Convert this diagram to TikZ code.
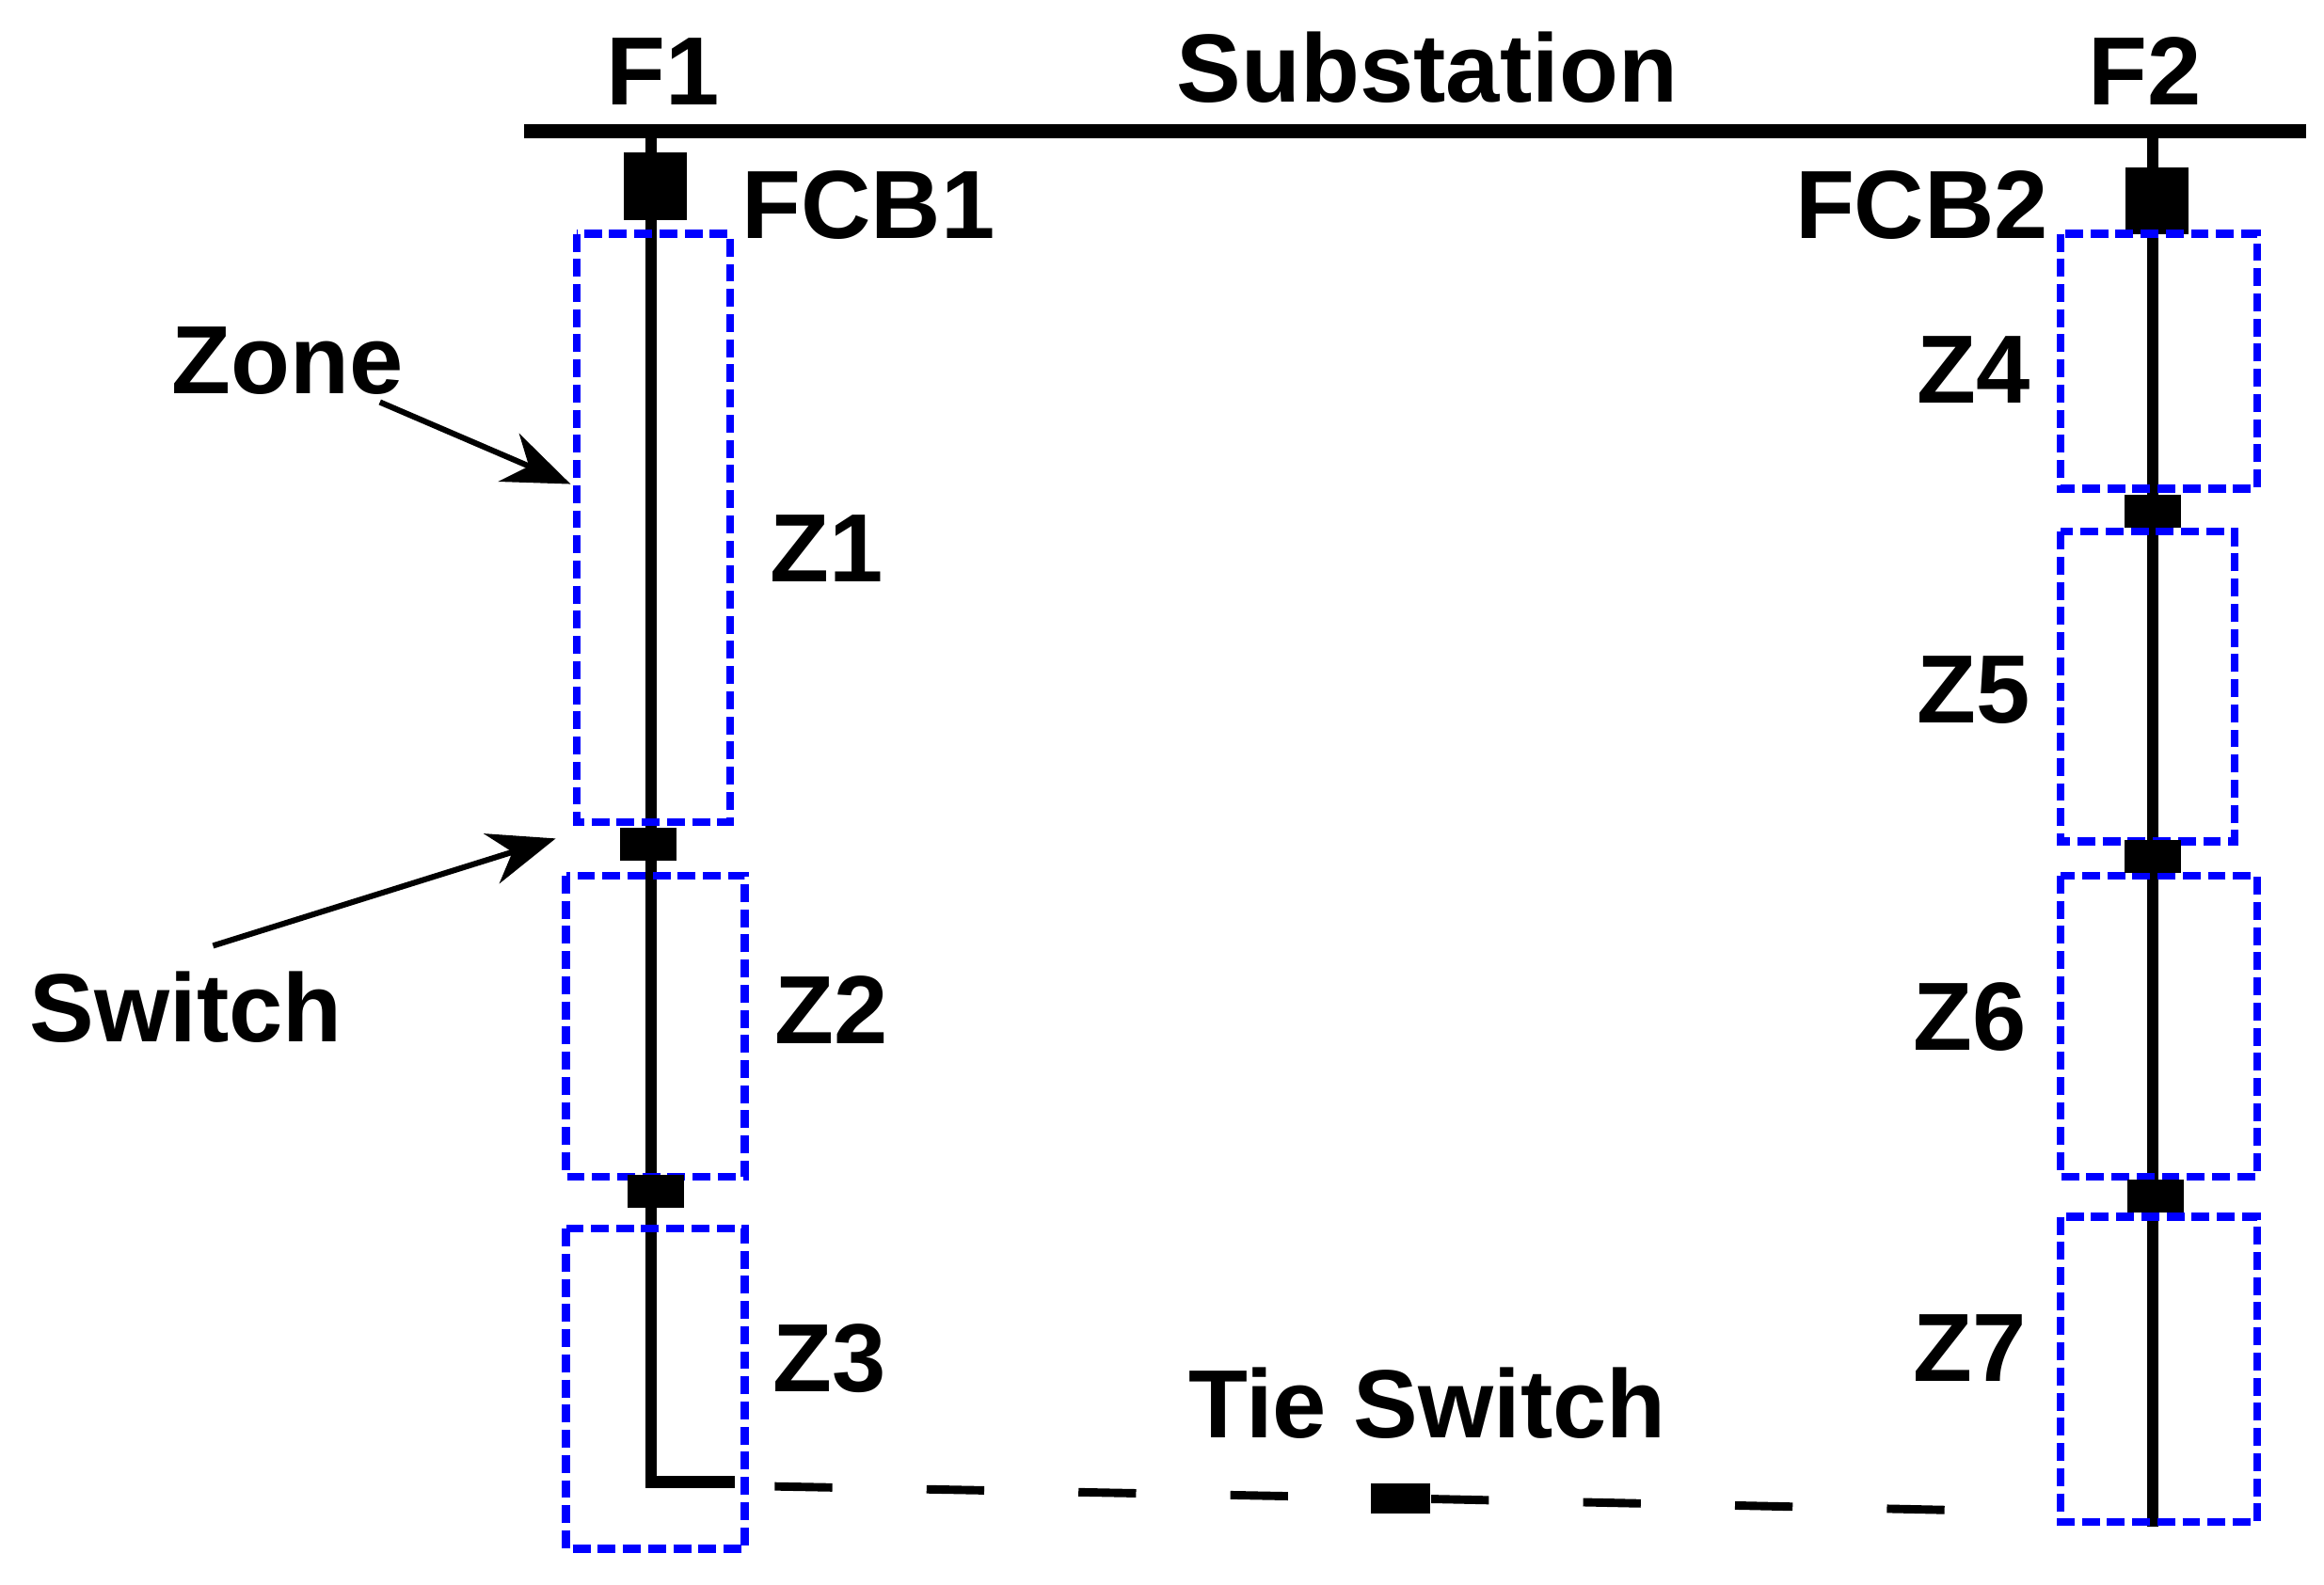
\documentclass[tikz,border=0pt]{standalone}
\usepackage{fontspec}
\setmainfont{Liberation Sans}
\usetikzlibrary{arrows.meta}
\begin{document}
\begin{tikzpicture}[x=0.01cm,y=-0.01cm,
  lbl/.style={font=\fontsize{18.5}{22}\selectfont\bfseries,inner sep=0pt},
  zone/.style={draw=blue,line width=1.5pt,dash pattern=on 3.4pt off 1.4pt},
  feeder/.style={line width=2.2pt},
  sw/.style={fill=black,inner sep=0pt,minimum width=0.38cm,minimum height=0.22cm},
  cb/.style={fill=black,inner sep=0pt,minimum width=0.42cm,minimum height=0.45cm},
  arr/.style={line width=1.1pt,-{Stealth[length=0.45cm,width=0.35cm]}}]
\useasboundingbox (0,0) rectangle (1560,1064);
% bus
\coordinate (busL) at (352,88); \coordinate (busR) at (1548,88);
\draw[line width=2.6pt] (busL) -- (busR);
\node[lbl] at (445,48) {F1};
\node[lbl] at (958,45) {Substation};
\node[lbl] at (1440,48) {F2};
% left feeder
\coordinate (l0) at (437,88); \coordinate (l1) at (437,995); \coordinate (l2) at (493,995);
\draw[feeder] (l0) -- (l1) -- (l2);
\node[cb] (fcb1) at (440,125) {};
\node[lbl] at (583,138) {FCB1};
\draw[zone] (387,157) rectangle (490,552);
\draw[zone] (380,588) rectangle (500,790);
\draw[zone] (380,825) rectangle (500,1040);
\node[sw] (s1) at (435,567) {};
\node[sw] (s2) at (440,800) {};
\node[lbl] at (555,368) {Z1};
\node[lbl] at (558,678) {Z2};
\node[lbl] at (557,912) {Z3};
\node[lbl] (zl) at (193,242) {Zone};
\coordinate (za) at (383,325);
\draw[arr] (255,270) -- (za);
\node[lbl] (sl) at (125,676) {Switch};
\coordinate (sa) at (373,563);
\draw[arr] (143,635) -- (sa);
% right feeder
\coordinate (r0) at (1445,88); \coordinate (r1) at (1445,1025);
\draw[feeder] (r0) -- (r1);
\node[cb] (fcb2) at (1448,135) {};
\node[lbl] at (1290,138) {FCB2};
\draw[zone] (1383,157) rectangle (1515,328);
\draw[zone] (1383,357) rectangle (1500,565);
\draw[zone] (1383,588) rectangle (1515,790);
\draw[zone] (1383,817) rectangle (1515,1022);
\node[sw] (s3) at (1445,343) {};
\node[sw] (s4) at (1445,575) {};
\node[sw] (s5) at (1447,803) {};
\node[lbl] at (1325,248) {Z4};
\node[lbl] at (1325,463) {Z5};
\node[lbl] at (1322,683) {Z6};
\node[lbl] at (1322,905) {Z7};
% tie
\coordinate (t0) at (520,998); \coordinate (t1) at (1360,1015);
\node[sw,minimum width=0.4cm,minimum height=0.2cm] (ts) at (940,1006) {};
\draw[line width=1.6pt,dash pattern=on 11pt off 18pt] (t0) -- (ts) -- (t1);
\node[lbl] at (958,942) {Tie Switch};
\end{tikzpicture}
\end{document}
